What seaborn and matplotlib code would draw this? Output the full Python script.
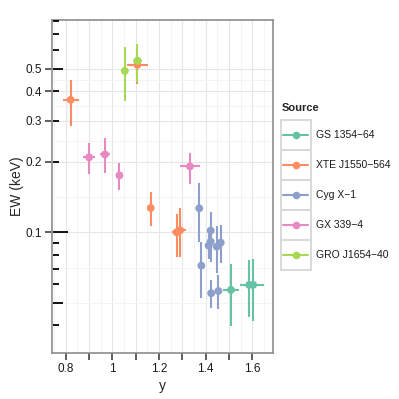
import numpy as np
import pandas as pd
import seaborn as sns
import matplotlib.pyplot as plt
from matplotlib.lines import Line2D
from matplotlib.patches import Rectangle
import matplotlib.transforms as mtransforms

# Legend / factor order
sources = ["GS 1354\u221264", "XTE J1550\u2212564", "Cyg X\u22121", "GX 339\u22124", "GRO J1654\u221240"]
colors = ["#66C2A5", "#FC8D62", "#8DA0CB", "#E78AC3", "#A6D854"]

# Data
src = ([0, 0, 0]
       + [1, 1, 1, 1, 1]
       + [2, 2, 2, 2, 2, 2, 2, 2, 2]
       + [3, 3, 3, 3]
       + [4, 4])
x_val = [1.508, 1.586, 1.603,
         0.821, 1.107, 1.164, 1.275, 1.290,
         1.372, 1.381, 1.421, 1.421, 1.412, 1.447, 1.464, 1.423, 1.454,
         0.900, 0.968, 1.030, 1.332,
         1.053, 1.107]
x_err = [0.034, 0.040, 0.045,
         0.035, 0.044, 0.0, 0.020, 0.025,
         0.0, 0.0, 0.0, 0.0, 0.0, 0.0, 0.0, 0.0, 0.0,
         0.026, 0.020, 0.015, 0.043,
         0.0, 0.020]
ew = [0.0567, 0.0596, 0.0596,
      0.368, 0.519, 0.127, 0.100, 0.102,
      0.1266, 0.072, 0.1016, 0.0912, 0.0877, 0.0868, 0.0903, 0.0549, 0.0561,
      0.209, 0.215, 0.175, 0.191,
      0.489, 0.541]
ew_lo = [0.0399, 0.0436, 0.0419,
         0.285, 0.430, 0.1067, 0.0787, 0.0782,
         0.0912, 0.0525, 0.082, 0.075, 0.077, 0.0672, 0.0737, 0.0476, 0.0469,
         0.177, 0.179, 0.152, 0.161,
         0.364, 0.440]
ew_hi = [0.0732, 0.0762, 0.0769,
         0.448, 0.600, 0.148, 0.1197, 0.1266,
         0.162, 0.0912, 0.1225, 0.100, 0.098, 0.1064, 0.1074, 0.0626, 0.0657,
         0.2415, 0.252, 0.197, 0.219,
         0.617, 0.638]

x_ticks = [0.8, 0.9, 1.0, 1.1, 1.2, 1.3, 1.4, 1.5, 1.6]
x_labels = ["0.8", "", "1", "", "1.2", "", "1.4", "", "1.6"]
y_ticks = [0.1, 0.2, 0.3, 0.4, 0.5]
y_labels = ["0.1", "0.2", "0.3", "0.4", "0.5"]

df = pd.DataFrame({
    "source": [sources[i] for i in src],
    "y": x_val, "xerr": x_err,
    "ew": ew, "lo": ew_lo, "hi": ew_hi,
})

sns.set_style("white")
plt.rcParams["font.family"] = ["Liberation Sans", "DejaVu Sans"]

fig = plt.figure(figsize=(3.99, 3.99), dpi=100)
ax = fig.add_axes([52 / 399, 1 - 353.3 / 399, 221 / 399, 333.3 / 399])
pal = dict(zip(sources, colors))

# error bars first, points on top
for s in sources:
    d = df[df.source == s]
    ax.errorbar(d["y"], d["ew"],
                yerr=[d["ew"] - d["lo"], d["hi"] - d["ew"]],
                xerr=d["xerr"], fmt="none", ecolor=pal[s],
                elinewidth=1.5, capsize=0, zorder=2)
sns.scatterplot(data=df, x="y", y="ew", hue="source", hue_order=sources,
                palette=pal, s=32, edgecolor="none", legend=False, ax=ax, zorder=3)

ax.set_yscale("log")
ax.set_xlim(0.741, 1.688)
ax.set_ylim(0.0304, 0.807)

ax.set_xticks(x_ticks)
ax.set_xticklabels(x_labels)
ax.set_xticks(np.arange(0.75, 1.70, 0.05), minor=True)
ax.set_yticks(y_ticks)
ax.set_yticklabels(y_labels)
ax.set_yticks([0.05, 0.0707, 0.1414, 0.2449, 0.3464, 0.4472], minor=True)
ax.yaxis.set_minor_formatter(plt.NullFormatter())

ax.tick_params(which="major", direction="out", length=5, width=1.1,
               color="#333333", labelsize=8.5, labelcolor="#1a1a1a", pad=2)
ax.tick_params(which="minor", length=0)
ax.tick_params(axis="x", bottom=True)
ax.tick_params(axis="y", left=True)

ax.grid(which="major", color="#E6E6E6", lw=0.8)
ax.grid(which="minor", color="#F3F3F3", lw=0.6)
ax.set_axisbelow(True)

for sp in ax.spines.values():
    sp.set_color("#8C8C8C")
    sp.set_linewidth(1.2)

ax.set_xlabel("y", fontsize=10, labelpad=3)
ax.set_ylabel("EW (keV)", fontsize=10, labelpad=1)

# log ticks drawn inside the left side
trans = mtransforms.blended_transform_factory(ax.transAxes, ax.transData)
for v in [0.04, 0.05, 0.06, 0.07, 0.08, 0.09, 0.1, 0.2, 0.3, 0.4, 0.5, 0.6, 0.7, 0.8]:
    if v == 0.1:
        L = 0.068
    elif v in (0.05, 0.5):
        L = 0.045
    else:
        L = 0.026
    ax.plot([0.006, 0.006 + L], [v, v], transform=trans, color="black",
            lw=1.3, solid_capstyle="butt", zorder=4, clip_on=False)

# legend drawn in pixel coords
lax = fig.add_axes([0, 0, 1, 1])
lax.set_xlim(0, 399)
lax.set_ylim(399, 0)
lax.axis("off")
lax.text(282, 108, "Source", fontsize=8, fontweight="bold", va="center", ha="left")
for i, s in enumerate(sources):
    y0 = 120 + 30 * i
    lax.add_patch(Rectangle((280.5, y0), 30.5, 30, fill=False,
                            edgecolor="#D9D9D9", lw=1.4))
    lax.add_line(Line2D([283, 308], [y0 + 15, y0 + 15], color=colors[i], lw=1.5))
    lax.plot([295.5], [y0 + 15], "o", color=colors[i], ms=5.5, mec="none")
    lax.text(316, y0 + 15, s, fontsize=7.5, va="center", ha="left", color="#1a1a1a")

fig.savefig("out.png", dpi=100)
